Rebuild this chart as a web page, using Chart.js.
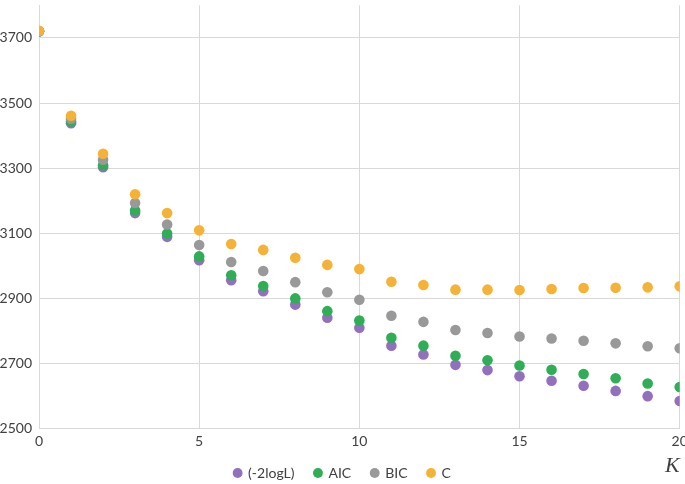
<!DOCTYPE html>
<html>
<head>
<meta charset="utf-8">
<script src="https://cdn.jsdelivr.net/npm/chart.js@4"></script>
<style>
  html, body { margin: 0; padding: 0; background: #fff; }
  #wrap { width: 685px; height: 484px; }
</style>
</head>
<body>
<div id="wrap"><canvas id="chart"></canvas></div>
<script>
const kValues = [0,1,2,3,4,5,6,7,8,9,10,11,12,13,14,15,16,17,18,19,20];
const logL = [3720,3438,3303,3162,3089,3017,2956,2922,2881,2841,2810,2755,2728,2696,2680,2661,2647,2632,2616,2600,2585];
const aic  = [3720,3443,3309,3170,3099,3029,2971,2938,2900,2861,2832,2779,2755,2724,2710,2694,2681,2668,2655,2639,2628];
const bic  = [3720,3452,3326,3193,3127,3064,3012,2984,2950,2919,2896,2847,2828,2803,2794,2783,2777,2770,2762,2753,2747];
const cVal = [3722,3461,3344,3220,3162,3109,3067,3049,3025,3003,2990,2951,2941,2927,2927,2926,2929,2932,2933,2934,2937];
const xTicks = [0,5,10,15,20];
const yTicks = [2500,2700,2900,3100,3300,3500,3700];

function pts(arr) {
  return kValues.map((k, i) => ({ x: k, y: arr[i] }));
}

const gridColor = "#d9d9d9";
const textColor = "#404040";

new Chart(document.getElementById("chart"), {
  type: "scatter",
  data: {
    datasets: [
      { label: "(-2logL)", data: pts(logL), backgroundColor: "#9370bd", order: 4 },
      { label: "AIC", data: pts(aic), backgroundColor: "#2eae55", order: 3 },
      { label: "BIC", data: pts(bic), backgroundColor: "#999999", order: 2 },
      { label: "C", data: pts(cVal), backgroundColor: "#f6b234", order: 1 },
    ],
  },
  options: {
    responsive: true,
    maintainAspectRatio: false,
    animation: false,
    layout: { padding: { top: 0, left: 0, right: 0, bottom: -6 } },
    elements: {
      point: { radius: 5.3, hoverRadius: 5.3, borderWidth: 0, pointStyle: "circle" },
    },
    plugins: {
      tooltip: { enabled: false },
      legend: {
        position: "bottom",
        labels: {
          usePointStyle: true,
          boxWidth: 7,
          boxHeight: 7,
          padding: 20,
          color: textColor,
          font: { family: "Lato", size: 14 },
          sort: (a, b) => a.datasetIndex - b.datasetIndex,
        },
      },
    },
    scales: {
      x: {
        type: "linear",
        min: 0,
        max: 20,
        afterBuildTicks: (axis) => { axis.ticks = xTicks.map((v) => ({ value: v })); },
        afterFit: (scale) => { scale.paddingLeft = 0; scale.paddingRight = 0; scale.height = 17.3; },
        grid: { color: gridColor, drawTicks: false },
        border: { color: gridColor },
        ticks: { padding: 4, color: textColor, font: { family: "Lato", size: 14 }, maxRotation: 0 },
        title: {
          display: true,
          text: "K",
          align: "end",
          color: textColor,
          padding: { top: 0, bottom: -33 },
          font: { family: "Liberation Serif", size: 22, style: "italic" },
        },
      },
      y: {
        min: 2500,
        max: 3800,
        afterBuildTicks: (axis) => { axis.ticks = yTicks.map((v) => ({ value: v })); },
        afterFit: (scale) => { scale.paddingTop = 0; scale.paddingBottom = 0; scale.width = 39; },
        grid: { color: gridColor, drawTicks: false },
        border: { color: gridColor },
        ticks: {
          padding: 7,
          color: textColor,
          font: { family: "Lato", size: 14 },
          callback: (v) => String(v),
        },
      },
    },
  },
});
</script>
</body>
</html>
